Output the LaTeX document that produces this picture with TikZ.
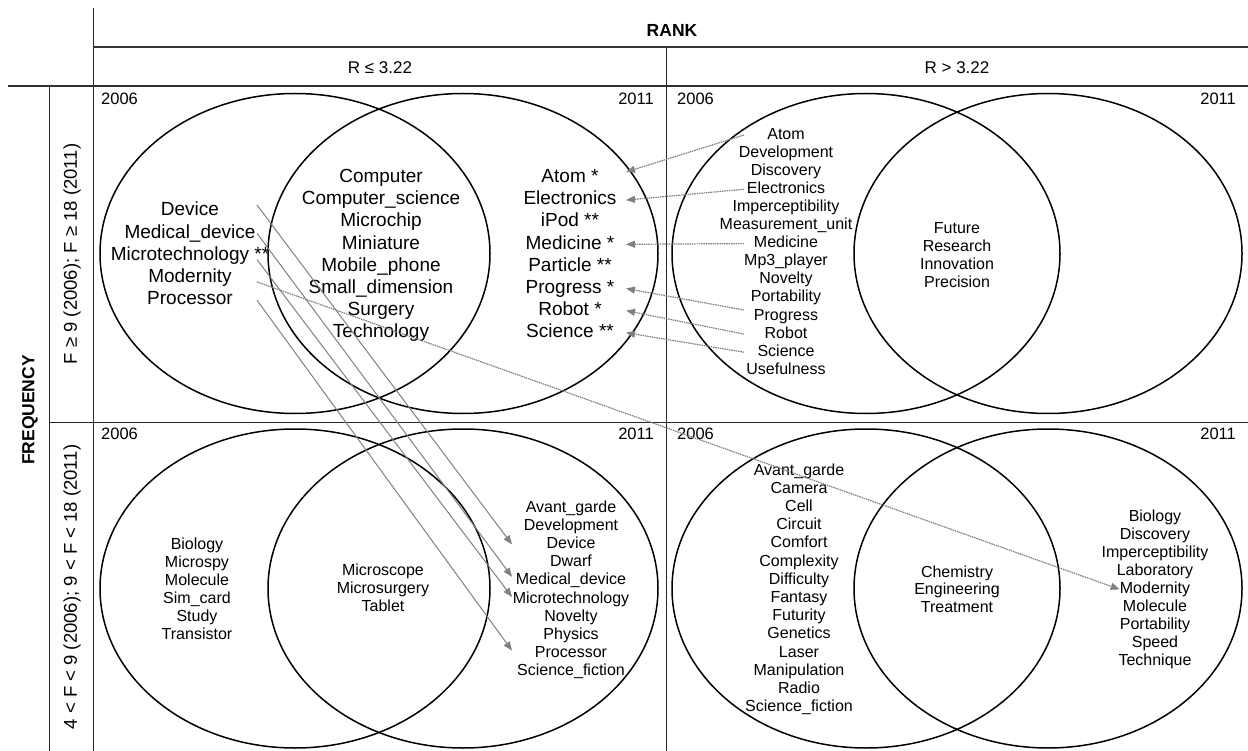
\documentclass[tikz,border=0pt]{standalone}
\usepackage{fontspec}
\setmainfont{Liberation Sans}
\usetikzlibrary{arrows.meta,calc}
\begin{document}
\begin{tikzpicture}[x=1pt,y=-1pt,
  big/.style={inner sep=0pt, font=\fontsize{19}{22}\selectfont, text height=13.5pt, text depth=4pt},
  sm/.style={inner sep=0pt, font=\fontsize{16}{18}\selectfont, text height=11.5pt, text depth=3.4pt},
  yr/.style={inner sep=0pt, font=\fontsize{16.5}{18}\selectfont},
  hdr/.style={inner sep=0pt, font=\fontsize{17}{20}\selectfont},
  rng/.style={inner sep=0pt, font=\fontsize{18.5}{20}\selectfont},
  hdrb/.style={inner sep=0pt, font=\fontsize{17.5}{20}\selectfont\bfseries},
  grid/.style={line width=1pt, draw=black!85},
  gridb/.style={line width=1.8pt, draw=black!80},
  venn/.style={line width=1.5pt, draw=black},
  darr/.style={draw=black!50, line width=1.2pt, dash pattern=on 1.5pt off 0.8pt, -{Triangle[length=9pt,width=7pt]}},
  sarr/.style={draw=black!50, line width=1pt, -{Triangle[length=9pt,width=7pt]}}]
\useasboundingbox (0,0) rectangle (1248,751);

% table lines
\draw[grid] (93,8) -- (93,751);
\draw[gridb] (93,47) -- (1248,47);
\draw[gridb] (8,86) -- (1248,86);
\draw[grid] (666,47) -- (666,751);
\draw[grid] (49,86) -- (49,751);
\draw[grid] (49,422) -- (1248,422);

% headers
\node[hdrb] (rank) at (672,30) {RANK};
\node[hdr] (rle) at (380,68) {R ≤ 3.22};
\node[hdr] (rgt) at (957,68) {R > 3.22};
\node[hdrb, rotate=90] (freq) at (30,410) {FREQUENCY};
\node[rng, rotate=90] (fhi) at (72,254) {F ≥ 9 (2006); F ≥ 18 (2011)};
\node[rng, rotate=90] (flo) at (72,587) {4 < F < 9 (2006); 9 < F < 18 (2011)};

% year labels
\node[yr, anchor=base west] (y1a) at (101,105) {2006};
\node[yr, anchor=base east] (y1b) at (654,105) {2011};
\node[yr, anchor=base west] (y2a) at (677,105) {2006};
\node[yr, anchor=base east] (y2b) at (1236,105) {2011};
\node[yr, anchor=base west] (y3a) at (101,439) {2006};
\node[yr, anchor=base east] (y3b) at (654,439) {2011};
\node[yr, anchor=base west] (y4a) at (677,439) {2006};
\node[yr, anchor=base east] (y4b) at (1236,439) {2011};

% venn ellipses
\draw[venn] (295,253.5) ellipse [x radius=195pt, y radius=160pt];
\draw[venn] (463,253.5) ellipse [x radius=195pt, y radius=160pt];
\draw[venn] (866,253.5) ellipse [x radius=194pt, y radius=160pt];
\draw[venn] (1048,253.5) ellipse [x radius=194pt, y radius=160pt];
\draw[venn] (295,588.5) ellipse [x radius=195pt, y radius=159.5pt];
\draw[venn] (463,588.5) ellipse [x radius=195pt, y radius=159.5pt];
\draw[venn] (866,588.5) ellipse [x radius=194pt, y radius=159.5pt];
\draw[venn] (1048,588.5) ellipse [x radius=194pt, y radius=159.5pt];

% top-left quadrant
\foreach \w [count=\i] in {Device,Medical\_device,Microtechnology **,Modernity,Processor}
  \node[big] (tll\i) at (190,{211+22.3*(\i-1)}) {\w};
\foreach \w [count=\i] in {Computer,Computer\_science,Microchip,Miniature,Mobile\_phone,Small\_dimension,Surgery,Technology}
  \node[big] (tlm\i) at (381,{178+22.1*(\i-1)}) {\w};
\foreach \w [count=\i] in {Atom *,Electronics,iPod **,Medicine *,Particle **,Progress *,Robot *,Science **}
  \node[big] (tlr\i) at (570,{178+22.1*(\i-1)}) {\w};

% top-right quadrant
\foreach \w [count=\i] in {Atom,Development,Discovery,Electronics,Imperceptibility,Measurement\_unit,Medicine,Mp3\_player,Novelty,Portability,Progress,Robot,Science,Usefulness}
  \node[sm] (trl\i) at (786,{135+18.1*(\i-1)}) {\w};
\foreach \w [count=\i] in {Future,Research,Innovation,Precision}
  \node[sm] (trm\i) at (957,{229+18.3*(\i-1)}) {\w};

% bottom-left quadrant
\foreach \w [count=\i] in {Biology,Microspy,Molecule,Sim\_card,Study,Transistor}
  \node[sm] (bll\i) at (197,{545+18*(\i-1)}) {\w};
\foreach \w [count=\i] in {Microscope,Microsurgery,Tablet}
  \node[sm] (blm\i) at (383,{571+18*(\i-1)}) {\w};
\foreach \w [count=\i] in {Avant\_garde,Development,Device,Dwarf,Medical\_device,Microtechnology,Novelty,Physics,Processor,Science\_fiction}
  \node[sm] (blr\i) at (571,{508+18.2*(\i-1)}) {\w};

% bottom-right quadrant
\foreach \w [count=\i] in {Avant\_garde,Camera,Cell,Circuit,Comfort,Complexity,Difficulty,Fantasy,Futurity,Genetics,Laser,Manipulation,Radio,Science\_fiction}
  \node[sm] (brl\i) at (799,{471+18.2*(\i-1)}) {\w};
\foreach \w [count=\i] in {Chemistry,Engineering,Treatment}
  \node[sm] (brm\i) at (957,{573+17.8*(\i-1)}) {\w};
\foreach \w [count=\i] in {Biology,Discovery,Imperceptibility,Laboratory,Modernity,Molecule,Portability,Speed,Technique}
  \node[sm] (brr\i) at (1155,{517+18.1*(\i-1)}) {\w};

% arrow guide coordinates
\coordinate (tx) at (744,0);
\coordinate (hx) at (626,0);
\coordinate (sx) at (257,0);
\coordinate (ex) at (512,0);

% dotted arrows: top-right 2006 -> top-left 2011
\draw[darr] (tx |- trl1) -- ($(hx |- tlr1)+(0,-6)$);
\draw[darr] (tx |- trl4) -- (hx |- tlr2);
\draw[darr] (tx |- trl7) -- (hx |- tlr4);
\draw[darr] ($(tx |- trl11)+(0,-6)$) -- (hx |- tlr6);
\draw[darr] (tx |- trl12) -- (hx |- tlr7);
\draw[darr] (tx |- trl13) -- (hx |- tlr8);

% solid arrows: top-left 2006 -> bottom-left 2011
\draw[sarr] ($(sx |- tll1)+(0,-6)$) -- (ex |- blr3);
\draw[sarr] (sx |- tll2) -- ($(ex |- blr5)+(0,-4)$);
\draw[sarr] ($(sx |- tll3)+(0,4)$) -- ($(ex |- blr6)+(0,-2)$);
\draw[sarr] (sx |- tll5) -- ($(ex |- blr9)+(0,-3)$);

% dotted arrow: Modernity -> bottom-right 2011
\draw[darr] ($(sx |- tll4)+(0,4)$) -- (brr5.west);
\end{tikzpicture}
\end{document}
